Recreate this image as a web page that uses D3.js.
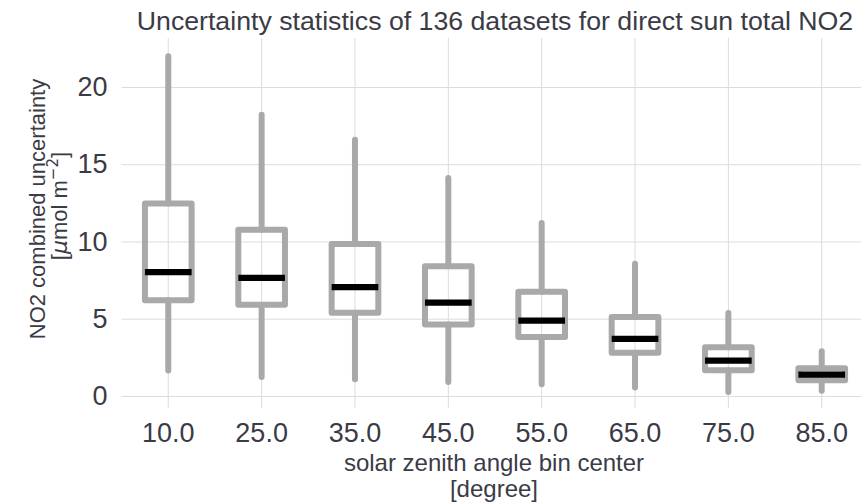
<!DOCTYPE html>
<html>
<head>
<meta charset="utf-8">
<script src="https://cdn.jsdelivr.net/npm/d3@7"></script>
<style>
  body { margin: 0; background: #fff; }
  svg { display: block; font-family: "Liberation Sans", Arial, sans-serif; }
</style>
</head>
<body>
<div id="chart"></div>
<script>
// box statistics per solar zenith angle bin
const categories = ["10.0", "25.0", "35.0", "45.0", "55.0", "65.0", "75.0", "85.0"];
const whiskerLow = [1.65, 1.23, 1.08, 0.91, 0.76, 0.54, 0.26, 0.34];
const q1 = [6.19, 5.91, 5.39, 4.62, 3.82, 2.8, 1.66, 1.02];
const medians = [8.01, 7.64, 7.05, 6.04, 4.87, 3.69, 2.29, 1.38];
const q3 = [12.45, 10.76, 9.84, 8.39, 6.75, 5.11, 3.15, 1.79];
const whiskerHigh = [21.99, 18.2, 16.59, 14.11, 11.2, 8.56, 5.37, 2.89];
const yTicks = [0, 5, 10, 15, 20];

const width = 861, height = 502;
const plot = { left: 121.6, right: 868.4, top: 38, bottom: 408 };
const textColor = "#3b3b46";
const boxColor = "#a9a9a9";
const gridColor = "#dcdcdc";

const svg = d3.select("#chart")
  .append("svg")
  .attr("width", width)
  .attr("height", height);

const x = d3.scaleBand()
  .domain(categories)
  .range([plot.left, plot.right]);

const y = d3.scaleLinear()
  .domain([-0.78, 23.17])
  .range([plot.bottom, plot.top]);

const data = categories.map((c, i) => ({
  cat: c,
  lo: whiskerLow[i],
  q1: q1[i],
  med: medians[i],
  q3: q3[i],
  hi: whiskerHigh[i],
}));

// y axis with horizontal grid
const yAxis = svg.append("g")
  .attr("transform", "translate(" + plot.left + ",0)")
  .call(d3.axisLeft(y)
    .tickValues(yTicks)
    .tickFormat(d3.format("d"))
    .tickSizeInner(-(plot.right - plot.left))
    .tickSizeOuter(0)
    .tickPadding(14));
yAxis.select(".domain").remove();
yAxis.selectAll(".tick line").attr("stroke", gridColor).attr("stroke-width", 1);
yAxis.selectAll(".tick text")
  .attr("font-size", 27)
  .attr("fill", textColor)
  .attr("font-family", "Liberation Sans, Arial, sans-serif");

// x axis with vertical grid
const xAxis = svg.append("g")
  .attr("transform", "translate(0," + plot.bottom + ")")
  .call(d3.axisBottom(x)
    .tickSizeInner(-(plot.bottom - plot.top))
    .tickSizeOuter(0)
    .tickPadding(14.5));
xAxis.select(".domain").remove();
xAxis.selectAll(".tick line").attr("stroke", gridColor).attr("stroke-width", 1);
xAxis.selectAll(".tick text")
  .attr("font-size", 27)
  .attr("fill", textColor)
  .attr("font-family", "Liberation Sans, Arial, sans-serif");

// boxes
const bw = x.bandwidth() * 0.5;
const cx = (d) => x(d.cat) + x.bandwidth() / 2;

const boxes = svg.append("g").attr("id", "boxes")
  .selectAll("g")
  .data(data)
  .enter()
  .append("g");

// whiskers
boxes.append("line")
  .attr("x1", cx).attr("x2", cx)
  .attr("y1", (d) => y(d.q3)).attr("y2", (d) => y(d.hi))
  .attr("stroke", boxColor).attr("stroke-width", 6)
  .attr("stroke-linecap", "round");
boxes.append("line")
  .attr("x1", cx).attr("x2", cx)
  .attr("y1", (d) => y(d.q1)).attr("y2", (d) => y(d.lo))
  .attr("stroke", boxColor).attr("stroke-width", 6)
  .attr("stroke-linecap", "round");

// box body
boxes.append("rect")
  .attr("x", (d) => cx(d) - bw / 2)
  .attr("width", bw)
  .attr("y", (d) => y(d.q3))
  .attr("height", (d) => y(d.q1) - y(d.q3))
  .attr("fill", "none")
  .attr("stroke", boxColor)
  .attr("stroke-width", 6)
  .attr("stroke-linejoin", "round");

// median
boxes.append("line")
  .attr("x1", (d) => cx(d) - bw / 2)
  .attr("x2", (d) => cx(d) + bw / 2)
  .attr("y1", (d) => y(d.med)).attr("y2", (d) => y(d.med))
  .attr("stroke", "#000")
  .attr("stroke-width", 6.3);

// title
svg.append("text")
  .attr("x", (plot.left + plot.right) / 2)
  .attr("y", 30)
  .attr("text-anchor", "middle")
  .attr("font-size", 26.7)
  .attr("fill", textColor)
  .text("Uncertainty statistics of 136 datasets for direct sun total NO2");

// x label
const xLabel = svg.append("text")
  .attr("text-anchor", "middle")
  .attr("font-size", 24)
  .attr("fill", textColor);
xLabel.append("tspan").attr("x", 494).attr("y", 470.5).text("solar zenith angle bin center");
xLabel.append("tspan").attr("x", 494).attr("y", 497).text("[degree]");

// y label
const yLabel = svg.append("g")
  .attr("transform", "translate(0,209) rotate(-90)");
yLabel.append("text")
  .attr("x", 0).attr("y", 44.7)
  .attr("text-anchor", "middle")
  .attr("font-size", 22)
  .attr("fill", textColor)
  .text("NO2 combined uncertainty");
const unit = yLabel.append("text")
  .attr("x", 3).attr("y", 67)
  .attr("text-anchor", "middle")
  .attr("font-size", 22)
  .attr("fill", textColor);
unit.append("tspan").text("[");
unit.append("tspan").attr("font-style", "italic").attr("font-family", "DejaVu Sans").text("\u03bc");
unit.append("tspan").text("mol m");
unit.append("tspan").attr("font-size", 15).attr("dy", -9).attr("font-family", "DejaVu Sans").text("\u22122");
unit.append("tspan").attr("dy", 9).text("]");
</script>
</body>
</html>
